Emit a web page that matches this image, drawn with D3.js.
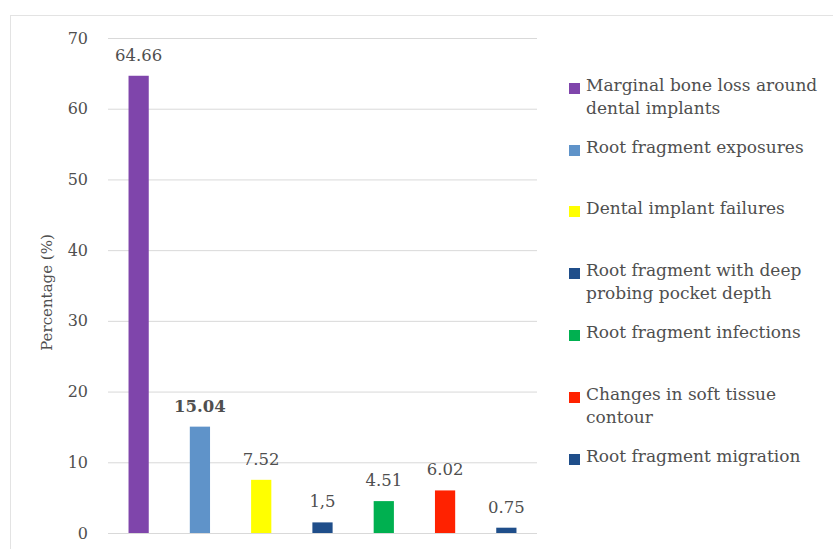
<!DOCTYPE html>
<html lang="en">
<head>
<meta charset="UTF-8">
<title>Complications</title>
<script src="https://cdn.jsdelivr.net/npm/d3@7"></script>
<style>
    * { margin: 0; padding: 0; }
    body { background: #fff; }
    svg { display: block; font-family: "DejaVu Serif", serif; }
</style>
</head>
<body>
<div id="chart"></div>
<script>
    // data
    var categories = [
        'Marginal bone loss around dental implants',
        'Root fragment exposures',
        'Dental implant failures',
        'Root fragment with deep probing pocket depth',
        'Root fragment infections',
        'Changes in soft tissue contour',
        'Root fragment migration'
    ];
    var values = [64.66, 15.04, 7.52, 1.5, 4.51, 6.02, 0.75];
    var valueLabels = ['64.66', '15.04', '7.52', '1,5', '4.51', '6.02', '0.75'];
    var colors = ['#7f45ab', '#5f93c9', '#ffff00', '#1f4e8a', '#00b050', '#ff2200', '#1f4e8a'];
    var legendLines = [
        ['Marginal bone loss around', 'dental implants'],
        ['Root fragment exposures'],
        ['Dental implant failures'],
        ['Root fragment with deep', 'probing pocket depth'],
        ['Root fragment infections'],
        ['Changes in soft tissue', 'contour'],
        ['Root fragment migration']
    ];
    var legendY = [91, 153, 214, 276, 338, 400, 462];
    var yTicks = [0, 10, 20, 30, 40, 50, 60, 70];

    var w = 833, h = 549;
    var plotL = 108, plotR = 537, plotT = 38, plotB = 533;
    var textColor = '#4f4f4f';

    var svg = d3.select('#chart').append('svg')
        .attr('width', w)
        .attr('height', h);

    // chart frame
    svg.append('rect')
        .attr('x', 10.5).attr('y', 15.5)
        .attr('width', 840).attr('height', 540)
        .attr('fill', 'none')
        .attr('stroke', '#e3e3e3');

    var x = d3.scaleBand().domain(categories).range([plotL, plotR]).paddingInner(0.67).paddingOuter(0.335);
    var y = d3.scaleLinear().domain([0, 70]).range([plotB, plotT]);

    // grid + y labels
    var yAxis = d3.axisLeft(y).tickValues(yTicks).tickSize(-(plotR - plotL)).tickPadding(20);
    var gy = svg.append('g')
        .attr('transform', 'translate(' + plotL + ',0)')
        .call(yAxis);
    gy.select('.domain').remove();
    gy.selectAll('line').attr('stroke', '#d9d9d9');
    gy.selectAll('text').attr('fill', textColor)
        .style('font-family', '"DejaVu Serif", serif')
        .style('font-size', '16px');

    svg.append('text')
        .attr('transform', 'translate(52,' + ((plotT + plotB) / 2 + 7) + ') rotate(-90)')
        .attr('text-anchor', 'middle')
        .attr('fill', textColor)
        .style('font-size', '15px')
        .text('Percentage (%)');

    // bars
    svg.selectAll('.bar')
        .data(categories)
        .enter()
        .append('rect')
        .attr('class', 'bar')
        .attr('x', function (d) { return x(d); })
        .attr('y', function (d, i) { return y(values[i]); })
        .attr('width', x.bandwidth())
        .attr('height', function (d, i) { return plotB - y(values[i]); })
        .attr('fill', function (d, i) { return colors[i]; });

    // value labels
    svg.selectAll('.val')
        .data(categories)
        .enter()
        .append('text')
        .attr('class', 'val')
        .attr('x', function (d) { return x(d) + x.bandwidth() / 2; })
        .attr('y', function (d, i) { return y(values[i]) - 15; })
        .attr('text-anchor', 'middle')
        .attr('fill', textColor)
        .style('font-size', '16.5px')
        .style('font-weight', function (d, i) { return i === 1 ? 'bold' : 'normal'; })
        .text(function (d, i) { return valueLabels[i]; });

    // legend
    var lg = svg.selectAll('.leg')
        .data(categories)
        .enter()
        .append('g')
        .attr('class', 'leg')
        .attr('transform', function (d, i) { return 'translate(569,' + legendY[i] + ')'; });
    lg.append('rect')
        .attr('x', 0).attr('y', -8)
        .attr('width', 11).attr('height', 11)
        .attr('fill', function (d, i) { return colors[i]; });
    lg.append('text')
        .attr('x', 17).attr('y', 0)
        .attr('dy', '0.35em')
        .attr('fill', textColor)
        .style('font-size', '17px')
        .selectAll('tspan')
        .data(function (d, i) { return legendLines[i]; })
        .enter()
        .append('tspan')
        .attr('x', 17)
        .attr('dy', function (d, j) { return j === 0 ? 0 : 23; })
        .text(function (d) { return d; });
</script>
</body>
</html>
